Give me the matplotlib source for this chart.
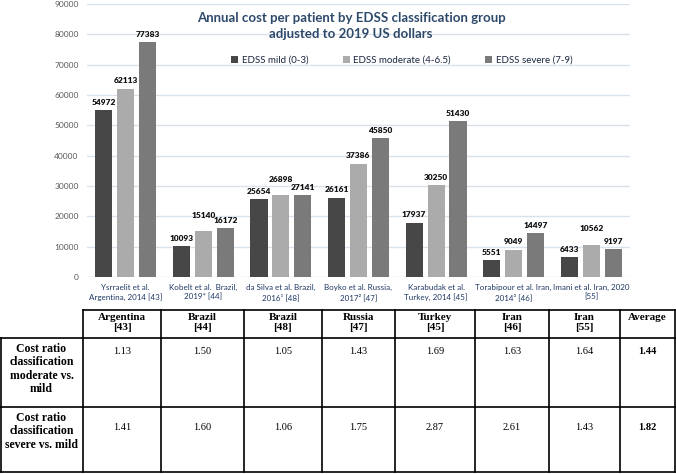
import numpy as np
import matplotlib.pyplot as plt

# bar chart data
studies = ['Ysrraelit et al.\nArgentina, 2014 [43]',
           'Kobelt et al.  Brazil,\n2019* [44]',
           'da Silva et al. Brazil,\n2016¹ [48]',
           'Boyko et al. Russia,\n2017² [47]',
           'Karabudak et al.\nTurkey, 2014 [45]',
           'Torabipour et al. Iran,\n2014³ [46]',
           'Imani et al. Iran, 2020\n[55]']
mild = [54972, 10093, 25654, 26161, 17937, 5551, 6433]
moderate = [62113, 15140, 26898, 37386, 30250, 9049, 10562]
severe = [77383, 16172, 27141, 45850, 51430, 14497, 9197]
series_names = ['EDSS mild (0-3)', 'EDSS moderate (4-6.5)', 'EDSS severe (7-9)']
y_ticks = [0, 10000, 20000, 30000, 40000, 50000, 60000, 70000, 80000, 90000]

# table data
table_cols = ['Argentina\n[43]', 'Brazil\n[44]', 'Brazil\n[48]', 'Russia\n[47]',
              'Turkey\n[45]', 'Iran\n[46]', 'Iran\n[55]', 'Average']
row_labels = ['Cost ratio\nclassification\nmoderate vs.\nmild',
              'Cost ratio\nclassification\nsevere vs. mild']
ratio_moderate = [1.13, 1.50, 1.05, 1.43, 1.69, 1.63, 1.64]
ratio_severe = [1.41, 1.60, 1.06, 1.75, 2.87, 2.61, 1.43]
avg_moderate = 1.44
avg_severe = 1.82

colors = ['#474747', '#ababab', '#7a7a7a']
W, H = 676, 475

fig = plt.figure(figsize=(W / 100, H / 100), dpi=100)
ax = fig.add_axes([87 / W, 1 - 277 / H, (630 - 87) / W, (277 - 4) / H])

x = np.arange(len(studies))
step, bw = 0.283, 0.22
series = [mild, moderate, severe]
for k, vals in enumerate(series):
    bars = ax.bar(x + (k - 1) * step, vals, bw, color=colors[k],
                  label=series_names[k], zorder=3)
    for i, (b, v) in enumerate(zip(bars, vals)):
        dy = 3
        # lift the middle label when it would collide with its neighbours
        if k == 1 and (abs(v - mild[i]) < 2500 or abs(v - severe[i]) < 2500):
            dy = 9
        ax.annotate(str(v), (b.get_x() + b.get_width() / 2, v),
                    xytext=(0, dy), textcoords='offset points', ha='center',
                    va='bottom', fontsize=6, fontweight='heavy',
                    family='Lato', color='#111111')

ax.set_xlim(-0.5, len(studies) - 0.5)
ax.set_ylim(0, 90000)
ax.set_yticks(y_ticks)
ax.set_yticklabels([str(t) for t in y_ticks], fontsize=6, color='#595959',
                   family='Lato')
ax.set_xticks(x)
ax.set_xticklabels(studies, fontsize=5.8, color='#1F3864', family='Lato',
                   linespacing=1.35)
ax.tick_params(length=0)
ax.tick_params(axis='y', pad=6)
ax.tick_params(axis='x', pad=5)
ax.grid(axis='y', color='#d9e1ea', lw=1, zorder=0)
for s in ax.spines.values():
    s.set_visible(False)

ax.legend(loc='center', bbox_to_anchor=(402 / W, 1 - 60 / H),
          bbox_transform=fig.transFigure, ncol=3, frameon=False,
          prop={'family': 'Lato', 'size': 7}, handlelength=0.7,
          handleheight=0.7, handletextpad=0.4, columnspacing=3.5,
          labelcolor='#1a2740')

fig.text(351 / W, 1 - 26 / H,
         'Annual cost per patient by EDSS classification group\nadjusted to 2019 US dollars',
         ha='center', va='center', fontsize=9.5, fontweight='bold',
         family='Lato', color='#2E4A6B', linespacing=1.45)

# table below the chart, drawn in pixel coordinates
tx = fig.add_axes([0, 0, 1, 1], facecolor='none')
tx.set_xlim(0, W)
tx.set_ylim(H, 0)
tx.axis('off')

col_edges = [0, 83, 161, 244, 322, 395, 475, 549, 620, 675]
row_edges = [310, 338, 407, 472]
lw = 1.2
tx.plot([83, 675], [310, 310], color='black', lw=lw)
for y in row_edges[1:]:
    tx.plot([0, 675], [y, y], color='black', lw=lw)
tx.plot([0.8, 0.8], [338, 472], color='black', lw=lw)
for xe in col_edges[1:]:
    tx.plot([xe, xe], [310, 472], color='black', lw=lw)

serif = 'Liberation Serif'
for i, name in enumerate(table_cols):
    cx = (col_edges[i + 1] + col_edges[i + 2]) / 2
    tx.text(cx, 313, name, ha='center', va='top', fontsize=8,
            fontweight='bold', family=serif, linespacing=1.2)

tx.text(41.5, 343, row_labels[0], ha='center', va='top', fontsize=8.5,
        fontweight='bold', family=serif, linespacing=1.15)
tx.text(41.5, 412, row_labels[1], ha='center', va='top', fontsize=8.5,
        fontweight='bold', family=serif, linespacing=1.15)

for i, (m, s) in enumerate(zip(ratio_moderate, ratio_severe)):
    cx = (col_edges[i + 1] + col_edges[i + 2]) / 2
    tx.text(cx, 352, f'{m:.2f}', ha='center', va='center', fontsize=7.5,
            family=serif)
    tx.text(cx, 427, f'{s:.2f}', ha='center', va='center', fontsize=7.5,
            family=serif)
cx = (col_edges[-2] + col_edges[-1]) / 2
tx.text(cx, 352, f'{avg_moderate:.2f}', ha='center', va='center',
        fontsize=7.5, fontweight='bold', family=serif)
tx.text(cx, 427, f'{avg_severe:.2f}', ha='center', va='center',
        fontsize=7.5, fontweight='bold', family=serif)

fig.savefig('out.png', dpi=100)
